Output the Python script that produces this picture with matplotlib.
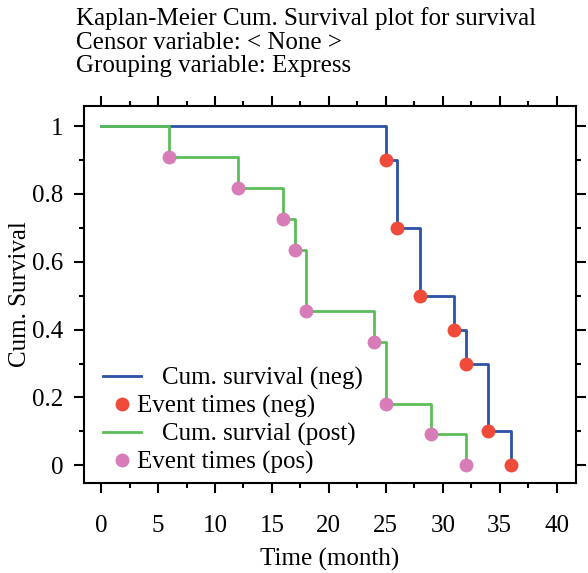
import numpy as np
import matplotlib
matplotlib.use("Agg")
import matplotlib.pyplot as plt

# Kaplan-Meier estimates
neg_times = [25, 26, 28, 31, 32, 34, 36]
neg_surv = [0.9, 0.7, 0.5, 0.4, 0.3, 0.1, 0.0]
pos_times = [6, 12, 16, 17, 18, 24, 25, 29, 32]
pos_surv = [0.909, 0.818, 0.727, 0.636, 0.455, 0.364, 0.182, 0.091, 0.0]

title_lines = ["Kaplan-Meier Cum. Survival plot for survival",
               "Censor variable: < None >",
               "Grouping variable: Express"]

plt.rcParams['font.family'] = ['Liberation Serif', 'DejaVu Serif']
plt.rcParams['font.size'] = 18

fig = plt.figure(figsize=(5.88, 5.73), dpi=100)
ax = fig.add_axes([84/588, 1 - 483/573, 492/588, 377/573])

def km_steps(times, surv):
    x = np.concatenate([[0], times])
    y = np.concatenate([[1.0], surv])
    return x, y

bx, by = km_steps(neg_times, neg_surv)
gx, gy = km_steps(pos_times, pos_surv)

ax.step(bx, by, where='post', color='#2b52a6', lw=2, label='Cum. survival (neg)', zorder=2)
ax.plot(neg_times, neg_surv, 'o', color='#ef4a3a', ms=10, mec='none', label='Event times (neg)', zorder=4)
ax.step(gx, gy, where='post', color='#5cbd5a', lw=2, label='Cum. survial (post)', zorder=3)
ax.plot(pos_times, pos_surv, 'o', color='#d77cb7', ms=10, mec='none', label='Event times (pos)', zorder=4)

ax.set_xlim(-1.5, 41.7)
ax.set_ylim(-0.052, 1.059)
ax.set_xticks(np.arange(0, 41, 5))
ax.set_xticks(np.arange(0, 41, 2.5), minor=True)
ax.set_yticks(np.arange(0, 1.01, 0.2))
ax.set_yticks(np.arange(0, 1.01, 0.1), minor=True)
ax.set_yticklabels(['0', '0.2', '0.4', '0.6', '0.8', '1'])

ax.tick_params(which='both', direction='out', top=True, right=True, width=1.5)
ax.tick_params(which='major', length=7)
ax.tick_params(which='minor', length=3.5)
ax.tick_params(axis='x', which='major', pad=16)
ax.tick_params(axis='y', which='major', pad=8)
for s in ax.spines.values():
    s.set_linewidth(1.5)

ax.set_xlabel('Time (month)', labelpad=8)
ax.set_ylabel('Cum. Survival', labelpad=1)

h, l = ax.get_legend_handles_labels()
l = ['    ' + l[0], l[1], '    ' + l[2], l[3]]
ax.legend(h, l, loc='lower left', bbox_to_anchor=(0.014, -0.01), frameon=False,
          handlelength=1.5, handletextpad=-0.16, labelspacing=0.2, borderpad=0)

fig.text(76/588, 1 - 7/573, '\n'.join(title_lines), ha='left', va='top',
         fontsize=18, linespacing=1.1)

fig.savefig('out.png', dpi=100)
